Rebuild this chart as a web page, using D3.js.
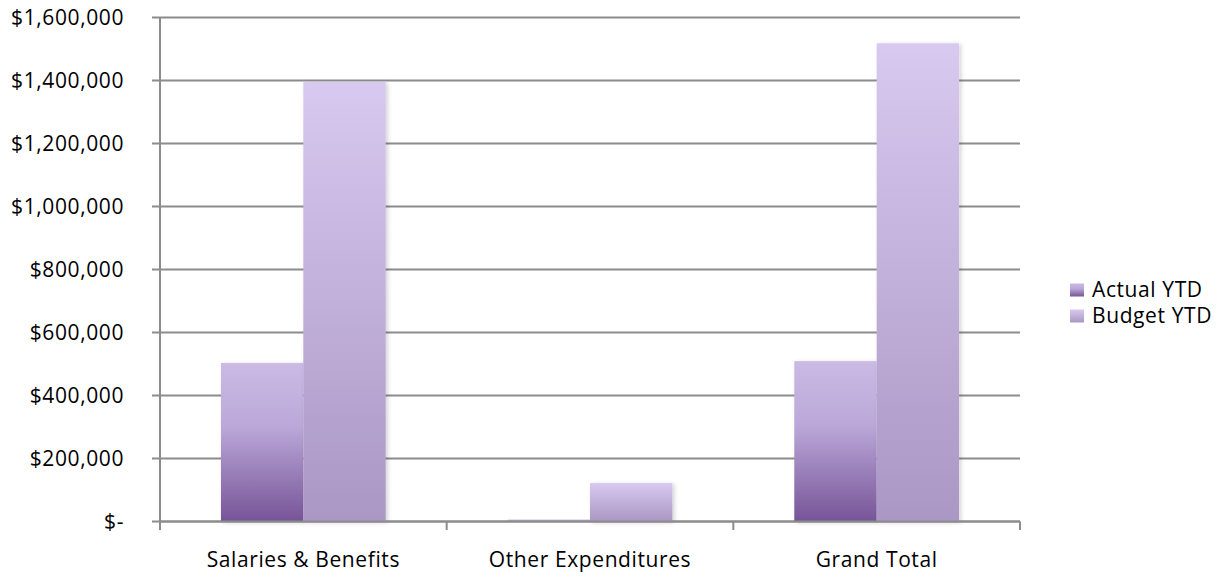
<!DOCTYPE html>
<html><head><meta charset="utf-8">
<script src="https://cdn.jsdelivr.net/npm/d3@7"></script>
<style>body{margin:0;background:#fff}svg{display:block}text{font-family:"Open Sans",Lato,sans-serif;fill:#000;letter-spacing:0.6px}</style>
</head><body><svg id="c" width="1230" height="576"></svg>
<script>
const categories = ["Salaries & Benefits", "Other Expenditures", "Grand Total"];
const seriesNames = ["Actual YTD", "Budget YTD"];
const actualYTD = [503000, 6000, 509000];
const budgetYTD = [1396000, 122000, 1518000];
const yTicks = [0, 200000, 400000, 600000, 800000, 1000000, 1200000, 1400000, 1600000];

const svg = d3.select("#c");
const m = {l:160, r:1020, t:17.5, b:521.5};
const x = d3.scaleBand().domain(categories).range([m.l, m.r]).paddingInner(0).paddingOuter(0);
const y = d3.scaleLinear().domain([0, 1600000]).range([m.b, m.t]);

const defs = svg.append("defs");
const g1 = defs.append("linearGradient").attr("id","gA").attr("x1",0).attr("y1",0).attr("x2",0).attr("y2",1);
g1.append("stop").attr("offset","0%").attr("stop-color","#cabae4");
g1.append("stop").attr("offset","40%").attr("stop-color","#bba8d9");
g1.append("stop").attr("offset","100%").attr("stop-color","#765497");
const g2 = defs.append("linearGradient").attr("id","gB").attr("x1",0).attr("y1",0).attr("x2",0).attr("y2",1);
g2.append("stop").attr("offset","0%").attr("stop-color","#d8c9f0");
g2.append("stop").attr("offset","100%").attr("stop-color","#aa97c4");
const f = defs.append("filter").attr("id","sh").attr("x","-10%").attr("y","-10%").attr("width","130%").attr("height","130%");
f.append("feDropShadow").attr("dx",2).attr("dy",1).attr("stdDeviation",2).attr("flood-color","#000").attr("flood-opacity",0.18);

// gridlines
svg.append("g").selectAll("line").data(yTicks).join("line")
  .attr("x1", 152).attr("x2", m.r).attr("y1", d=>y(d)).attr("y2", d=>y(d))
  .attr("stroke","#8c8c8c").attr("stroke-width",2);

// y labels
const fmt = d => d === 0 ? "$-" : "$" + d3.format(",")(d);
svg.append("g").selectAll("text").data(yTicks).join("text")
  .attr("x", 124).attr("y", d=>y(d)).attr("dy","0.35em").attr("text-anchor","end")
  .attr("font-size",21).text(fmt);

// bars
const inner = d3.scaleBand().domain(seriesNames).range([0, x.bandwidth()]).paddingOuter(0.74).paddingInner(0);
const grads = ["url(#gA)","url(#gB)"];
const vals = [actualYTD, budgetYTD];
seriesNames.forEach((s, si) => {
  svg.append("g").selectAll("rect").data(categories).join("rect")
    .attr("x", c => x(c) + inner(s)).attr("width", inner.bandwidth())
    .attr("y", (c,i) => y(vals[si][i])).attr("height", (c,i) => y(0) - y(vals[si][i]))
    .attr("fill", grads[si]).attr("filter","url(#sh)");
});

// axes lines
svg.append("line").attr("x1",m.l).attr("x2",m.l).attr("y1",m.t).attr("y2",530).attr("stroke","#8c8c8c").attr("stroke-width",2);
svg.append("line").attr("x1",m.l).attr("x2",m.r).attr("y1",m.b).attr("y2",m.b).attr("stroke","#8c8c8c").attr("stroke-width",2);
svg.append("g").selectAll("line").data(categories).join("line")
  .attr("x1", c=>x(c)+x.bandwidth()).attr("x2", c=>x(c)+x.bandwidth()).attr("y1", m.b).attr("y2", 530)
  .attr("stroke","#8c8c8c").attr("stroke-width",2);

// category labels
svg.append("g").selectAll("text").data(categories).join("text")
  .attr("x", c=>x(c)+x.bandwidth()/2).attr("y", 560).attr("dy","0.35em").attr("text-anchor","middle")
  .attr("font-size",21).text(d=>d);

// legend
const lg = svg.append("g").selectAll("g").data(seriesNames).join("g")
  .attr("transform", (d,i)=>`translate(1070,${290 + i*26})`);
lg.append("rect").attr("x",0).attr("y",-6.5).attr("width",14).attr("height",13).attr("fill",(d,i)=>grads[i]);
lg.append("text").attr("x",22).attr("y",0).attr("dy","0.35em").attr("font-size",21).text(d=>d);
</script></body></html>
